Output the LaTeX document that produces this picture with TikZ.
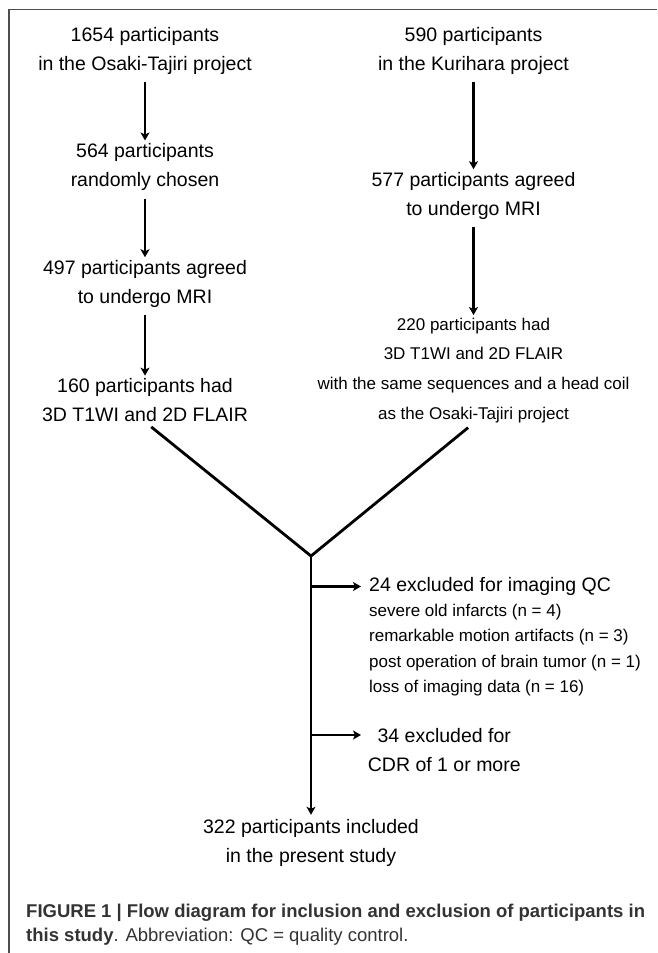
\documentclass[tikz,border=0pt]{standalone}
\usepackage{fontspec}
\setmainfont{Liberation Sans}
\usetikzlibrary{arrows.meta}
\definecolor{framegray}{HTML}{4D4D4D}
\definecolor{captiongray}{HTML}{333333}
\begin{document}
\begin{tikzpicture}[x=1pt, y=-1pt,
    box/.style={align=center, inner sep=0pt, font=\fontsize{19.5}{29}\selectfont},
    smallbox/.style={align=center, inner sep=0pt, font=\fontsize{17}{29.8}\selectfont},
    flow/.style={-{Stealth[length=8pt,width=9pt,inset=2pt]}, line width=2.2pt, shorten <=8pt, shorten >=2.5pt}]
    \useasboundingbox (0,0) rectangle (657,953);
    \draw[framegray, line width=1.3pt] (9,953) -- (9,9.5) -- (657,9.5);
    \node[box] (osaki) at (145,50.7) {1654 participants\\in the Osaki-Tajiri project};
    \node[box] (chosen) at (145,166.8) {564 participants\\randomly chosen};
    \node[box] (agreeL) at (145,283.5) {497 participants agreed\\to undergo MRI};
    \node[box] (mriL) at (145,400) {160 participants had\\3D T1WI and 2D FLAIR};
    \node[box] (kuri) at (473.5,50.7) {590 participants\\in the Kurihara project};
    \node[box] (agreeR) at (473.5,195.5) {577 participants agreed\\to undergo MRI};
    \node[smallbox] (mriR) at (473.5,370.4) {220 participants had\\3D T1WI and 2D FLAIR\\with the same sequences and a head coil\\as the Osaki-Tajiri project};
    \coordinate (merge) at (311,556);
    \node[box, anchor=west] (qc) at (369,586.5) {24 excluded for imaging QC};
    \node[smallbox, align=left, anchor=north west, font=\fontsize{17}{25.3}\selectfont] (qclist) at (369,604) {severe old infarcts (n = 4)\\remarkable motion artifacts (n = 3)\\post operation of brain tumor (n = 1)\\loss of imaging data (n = 16)};
    \node[box] (cdr) at (444.3,750.3) {34 excluded for\\CDR of 1 or more};
    \coordinate (cdrtip) at (361,735);
    \node[box] (final) at (311,842.6) {322 participants included\\in the present study};
    \node[anchor=north west, align=left, inner sep=0pt, text=captiongray, font=\fontsize{18.5}{24}\selectfont] (caption) at (26,904) {\textbf{FIGURE 1 | Flow diagram for inclusion and exclusion of participants in}\\\textbf{this study}. Abbreviation: QC = quality control.};
    \foreach \a/\b in {osaki/chosen, chosen/agreeL, agreeL/mriL, kuri/agreeR, agreeR/mriR}
        \draw[flow] (\a) -- (\b);
    \draw[line width=2.8pt, shorten <=8pt, shorten >=7pt] (mriL.south) -- (merge) -- (mriR.south);
    \draw[flow, shorten <=0pt, shorten >=4pt] (merge) -- (final.north);
    \draw[flow, shorten <=0pt, shorten >=8pt] (merge |- qc.west) -- (qc.west);
    \draw[flow, shorten <=0pt, shorten >=0pt] (merge |- cdrtip) -- (cdrtip);
\end{tikzpicture}
\end{document}
